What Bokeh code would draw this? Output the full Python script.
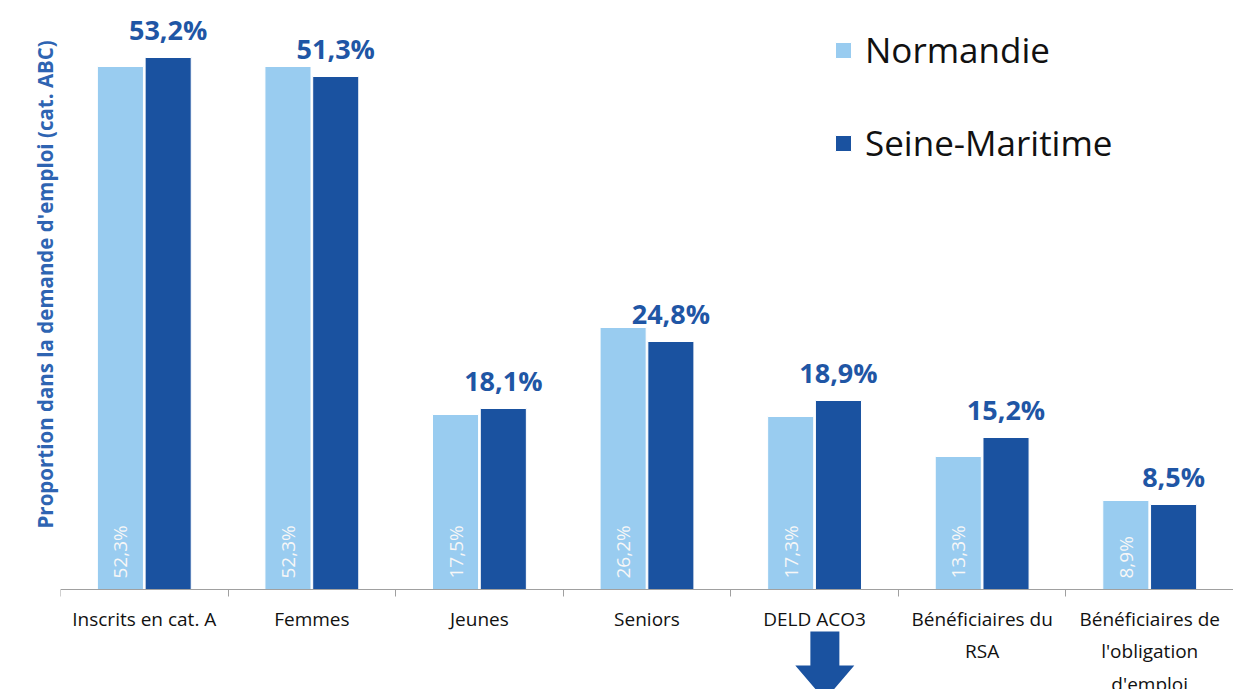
import numpy as np
from bokeh.plotting import figure
from bokeh.models import (Range1d, FixedTicker, LinearAxis, Legend, LegendItem,
                          ColumnDataSource, PolyAnnotation, Title)
from bokeh.core.properties import value
from bokeh.embed import file_html
from bokeh.resources import INLINE

categories = ["Inscrits en cat. A", "Femmes", "Jeunes", "Seniors", "DELD ACO3",
              "Bénéficiaires du\nRSA", "Bénéficiaires de\nl'obligation\nd'emploi"]
normandie = [52.3, 52.3, 17.5, 26.2, 17.3, 13.3, 8.9]
seine_maritime = [53.2, 51.3, 18.1, 24.8, 18.9, 15.2, 8.5]
normandie_labels = ["52,3%", "52,3%", "17,5%", "26,2%", "17,3%", "13,3%", "8,9%"]
seine_labels = ["53,2%", "51,3%", "18,1%", "24,8%", "18,9%", "15,2%", "8,5%"]

FONT = "Open Sans"
LIGHT = "#99CCF0"
DARK = "#1A52A0"
LABEL_BLUE = "#1F56A5"

n = len(categories)
centers = np.arange(n) + 0.5
off = 0.1425
bw = 0.275

src = ColumnDataSource(dict(
    x=centers, xn=centers - off, xs=centers + off,
    nor=normandie, sm=seine_maritime,
    nl=normandie_labels, sl=seine_labels, zero=[0] * n,
))

# frame spans the whole height; the x axis is pinned at y = 0
p = figure(width=1233, height=689, output_backend="svg", toolbar_location=None,
           x_range=Range1d(0, n), y_range=Range1d(-10.0, 58.9),
           min_border_left=60, min_border_right=0, min_border_top=0,
           min_border_bottom=0, x_axis_location=None, y_axis_location=None)
p.outline_line_color = None
p.xgrid.visible = False
p.ygrid.visible = False
p.background_fill_color = "white"

r1 = p.vbar(x="xn", top="nor", bottom=0, width=bw, source=src, fill_color=LIGHT,
            line_color="white", line_width=1)
r2 = p.vbar(x="xs", top="sm", bottom=0, width=bw, source=src, fill_color=DARK,
            line_color="white", line_width=1)

p.text(x="xs", y="sm", text="sl", source=src, text_align="center",
       text_baseline="bottom", y_offset=-10, text_color=LABEL_BLUE,
       text_font=value(FONT), text_font_style="bold", text_font_size="27px")
p.text(x="xn", y="zero", text="nl", source=src, angle=np.pi / 2,
       text_align="left", text_baseline="middle", y_offset=-11,
       text_color="#F7F7F7", text_font=value(FONT), text_font_size="19px")

# x axis: ticks at category boundaries (minor), labels at centres
xax = LinearAxis(ticker=FixedTicker(ticks=list(centers), minor_ticks=list(range(n + 1))),
                 fixed_location=0)
xax.major_label_overrides = {float(c): lab for c, lab in zip(centers, categories)}
xax.major_tick_line_color = None
xax.major_tick_in = 0
xax.major_tick_out = 0
xax.minor_tick_in = 0
xax.minor_tick_out = 7
xax.minor_tick_line_color = "#A0A0A0"
xax.axis_line_color = "#A0A0A0"
xax.major_label_text_font = FONT
xax.major_label_text_font_size = "19px"
xax.major_label_text_color = "#111111"
xax.major_label_text_line_height = 1.25
xax.major_label_standoff = 9
p.add_layout(xax, "below")

# y title (outer) then an empty left axis acting as a spacer next to the frame
ytitle = Title(text="Proportion dans la demande d'emploi (cat. ABC)", align="left",
               vertical_align="top", offset=161, standoff=0, text_font=FONT,
               text_font_style="bold", text_font_size="20.5px", text_color="#2E64B2")
p.add_layout(ytitle, "left")

yax = LinearAxis(ticker=FixedTicker(ticks=[]))
yax.axis_line_color = None
yax.major_tick_line_color = None
yax.minor_tick_line_color = None
yax.major_tick_in = 0
yax.major_tick_out = 26
p.add_layout(yax, "left")

legend = Legend(items=[LegendItem(label="Normandie", renderers=[r1]),
                       LegendItem(label="Seine-Maritime", renderers=[r2])],
                location=(773, 523), padding=0, spacing=46,
                glyph_width=20, glyph_height=20, label_standoff=12,
                label_text_font=FONT, label_text_font_size="35px",
                label_text_color="#111111", border_line_color=None,
                background_fill_alpha=0)
p.add_layout(legend)

# decorative down arrow under "DELD ACO3"
arrow_xs = [4.475, 4.648, 4.648, 4.737, 4.561, 4.385, 4.475]
arrow_ys = [-4.2, -4.2, -7.6, -7.6, -11.05, -7.6, -7.6]
p.add_layout(PolyAnnotation(xs=arrow_xs, ys=arrow_ys, fill_color=DARK, fill_alpha=1,
                            line_color=None))

open("out.html", "w").write(file_html(p, INLINE))
